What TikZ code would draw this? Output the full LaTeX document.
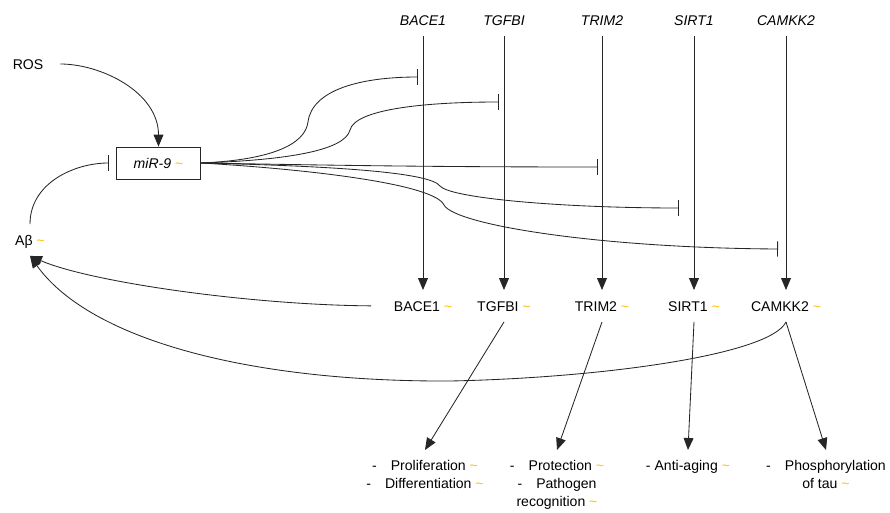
\documentclass[tikz,border=0pt]{standalone}
\usepackage{fontspec}
\setmainfont{Liberation Sans}
\usetikzlibrary{arrows.meta}
\definecolor{tildeor}{RGB}{255,192,0}
\newcommand{\tld}{{\color{tildeor}\textasciitilde}}
\tikzstyle{gene}=[font=\itshape, inner xsep=2pt, inner ysep=7.5pt, text height=7.3pt, text depth=0pt]
\tikzstyle{prot}=[inner xsep=2pt, inner ysep=7.5pt, text height=7.3pt, text depth=0pt]
\tikzstyle{func}=[align=center, anchor=north, inner xsep=2pt, inner ysep=7pt, font=\fontsize{10}{12.8}\selectfont]
\tikzstyle{mirbox}=[draw, line width=0.6pt, minimum width=60pt, minimum height=22.7pt]
\tikzstyle{act}=[-{Triangle[width=7pt,length=8.5pt]}, line width=0.6pt]
\tikzstyle{inh}=[-{Bar[width=11pt]}, line width=0.6pt]

\begin{document}
\begin{tikzpicture}[x=0.025cm, y=-0.025cm, font=\fontsize{10}{12}\selectfont, draw=black!85]
\useasboundingbox (0,0) rectangle (890,513);
\node[prot] (ROS) at (28,64) {ROS};
\node[mirbox] (miR) at (158.5,163) {\textit{miR-9} \tld};
\node[prot] (Ab) at (30,240) {Aβ \tld};
\node[gene] (gBACE) at (423,20) {BACE1};
\node[gene] (gTGF) at (504,20) {TGFBI};
\node[gene] (gTRIM) at (602,20) {TRIM2};
\node[gene] (gSIRT) at (694,20) {SIRT1};
\node[gene] (gCAM) at (786,20) {CAMKK2};
\node[prot] (pBACE) at (423,306) {BACE1 \tld};
\node[prot] (pTGF) at (504,306) {TGFBI \tld};
\node[prot] (pTRIM) at (602,306) {TRIM2 \tld};
\node[prot] (pSIRT) at (694,306) {SIRT1 \tld};
\node[prot] (pCAM) at (786,306) {CAMKK2 \tld};
\node[func] (fTGF) at (425,450) {-\quad Proliferation \tld\\-\quad Differentiation \tld};
\node[func] (fTRIM) at (557,450) {-\quad Protection \tld\\-\quad Pathogen\\recognition \tld};
\node[func] (fSIRT) at (688,450) {- Anti-aging \tld};
\node[func] (fCAM) at (826,450) {-\quad Phosphorylation\\of tau \tld};
\coordinate (iBACE) at (418,77);
\coordinate (iTGF) at (499,102);
\coordinate (iTRIM) at (598,167);
\coordinate (iSIRT) at (679,208);
\coordinate (iCAM) at (778,249);

\draw[act,shorten <=10pt] (ROS.east) to[out=0,in=90] (miR.north);
\draw[inh,shorten >=5pt] (Ab.north) to[out=90,in=180] (miR.west);
\draw[act] (gBACE)--(pBACE); \draw[act] (gTGF)--(pTGF); \draw[act] (gTRIM)--(pTRIM);
\draw[act] (gSIRT)--(pSIRT); \draw[act] (gCAM)--(pCAM);
\draw[inh] (miR.east) .. controls (270,160) and (305,145) .. (308,122) .. controls (312,90) and (360,77) .. (iBACE);
\draw[inh] (miR.east) .. controls (290,160) and (345,150) .. (350,130) .. controls (355,110) and (420,102) .. (iTGF);
\draw[inh] (miR.east) .. controls (320,165) and (420,167) .. (iTRIM);
\draw[inh] (miR.east) .. controls (330,166) and (430,172) .. (440,186) .. controls (450,198) and (560,208) .. (iSIRT);
\draw[inh] (miR.east) .. controls (320,170) and (435,185) .. (444,205) .. controls (455,225) and (600,248) .. (iCAM);
\draw[act,shorten <=14pt] (pBACE.west) .. controls (250,305) and (90,282) .. (Ab.south);
\draw[act] (pCAM.south) .. controls (770,355) and (600,378) .. (450,381) .. controls (250,382) and (90,340) .. (Ab.south);
\draw[act] (pTGF.south)--(fTGF.north); \draw[act] (pTRIM.south)--(fTRIM.north);
\draw[act] (pSIRT.south)--(fSIRT.north); \draw[act] (pCAM.south)--(fCAM.north);
\end{tikzpicture}
\end{document}
